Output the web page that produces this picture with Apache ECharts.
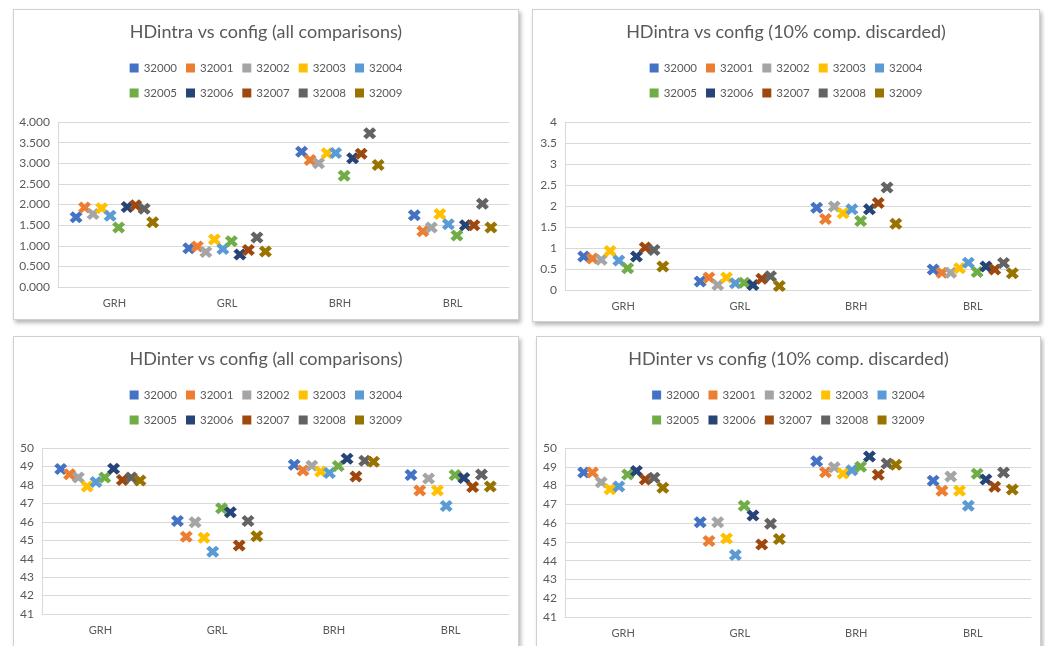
<!DOCTYPE html>
<html>
<head>
<meta charset="utf-8">
<script src="https://cdn.jsdelivr.net/npm/echarts@6/dist/echarts.min.js"></script>
<style>
  html, body { margin: 0; padding: 0; background: #ffffff; width: 1045px; height: 646px; overflow: hidden; }
  .panel {
    position: absolute;
    background: #ffffff;
    border: 1px solid #d0d0d0;
    box-sizing: border-box;
    box-shadow: 2px 3px 4px rgba(0, 0, 0, 0.28);
  }
</style>
</head>
<body>
<div id="p1" class="panel" style="left:13px;top:9px;width:506px;height:311px;"></div>
<div id="p2" class="panel" style="left:532px;top:9px;width:508px;height:313px;"></div>
<div id="p3" class="panel" style="left:13px;top:336px;width:506px;height:330px;"></div>
<div id="p4" class="panel" style="left:536px;top:336px;width:505px;height:330px;"></div>
<script>
// Configurations (one series each) and the four test categories
const configs = ['32000', '32001', '32002', '32003', '32004', '32005', '32006', '32007', '32008', '32009'];
const categories = ['GRH', 'GRL', 'BRH', 'BRL'];
const colors = ['#4472C4', '#ED7D31', '#A5A5A5', '#FFC000', '#5B9BD5',
                '#70AD47', '#264478', '#9E480E', '#636363', '#997300'];

// HDintra, all comparisons: one row per config, values for GRH, GRL, BRH, BRL
const intraAll = [
  [1.69, 0.94, 3.28, 1.74],
  [1.93, 0.98, 3.08, 1.35],
  [1.77, 0.85, 3.00, 1.44],
  [1.91, 1.15, 3.24, 1.77],
  [1.73, 0.92, 3.25, 1.52],
  [1.44, 1.11, 2.70, 1.25],
  [1.94, 0.79, 3.12, 1.50],
  [1.98, 0.90, 3.23, 1.50],
  [1.90, 1.20, 3.73, 2.02],
  [1.57, 0.86, 2.96, 1.44]
];

// HDintra, 10% of comparisons discarded
const intraDisc = [
  [0.80, 0.20, 1.96, 0.49],
  [0.75, 0.30, 1.69, 0.41],
  [0.72, 0.12, 1.99, 0.41],
  [0.93, 0.30, 1.83, 0.52],
  [0.70, 0.16, 1.92, 0.65],
  [0.52, 0.175, 1.64, 0.43],
  [0.80, 0.12, 1.92, 0.56],
  [1.01, 0.27, 2.07, 0.49],
  [0.95, 0.33, 2.44, 0.64],
  [0.56, 0.095, 1.58, 0.40]
];

// HDinter, all comparisons
const interAll = [
  [48.86, 46.04, 49.09, 48.53],
  [48.58, 45.19, 48.78, 47.70],
  [48.40, 45.97, 49.04, 48.35],
  [47.91, 45.14, 48.73, 47.70],
  [48.15, 44.37, 48.64, 46.86],
  [48.40, 46.73, 49.02, 48.53],
  [48.87, 46.52, 49.42, 48.37],
  [48.26, 44.72, 48.46, 47.89],
  [48.40, 46.04, 49.31, 48.57],
  [48.24, 45.21, 49.26, 47.91]
];

// HDinter, 10% of comparisons discarded
const interDisc = [
  [48.70, 46.05, 49.30, 48.25],
  [48.70, 45.05, 48.71, 47.73],
  [48.18, 46.04, 48.98, 48.48],
  [47.80, 45.18, 48.64, 47.73],
  [47.95, 44.30, 48.82, 46.93],
  [48.59, 46.93, 49.00, 48.63],
  [48.77, 46.41, 49.55, 48.32],
  [48.32, 44.86, 48.57, 47.93],
  [48.41, 45.96, 49.18, 48.70],
  [47.88, 45.16, 49.11, 47.79]
];

const FONT = 'Lato, "Open Sans", sans-serif';
const TEXT = '#595959';
// Thick "X" marker
const crossPath = 'path://M0,3 L3,0 L6,3 L9,0 L12,3 L9,6 L12,9 L9,12 L6,9 L3,12 L0,9 L3,6 Z';
// Horizontal spacing between configs inside one category (fraction of a category)
const STEP = 0.0755;

function legend(names, top) {
  return {
    data: names,
    top: top,
    left: 'center',
    icon: 'rect',
    itemWidth: 9,
    itemHeight: 9,
    itemGap: 9,
    textStyle: { color: TEXT, fontSize: 11.5, fontFamily: FONT }
  };
}

function build(id, title, rows, yAxisOpt, grid) {
  const chart = echarts.init(document.getElementById(id), null, { renderer: 'canvas' });
  const series = configs.map((name, s) => ({
    name: name,
    type: 'scatter',
    xAxisIndex: 1,
    symbol: crossPath,
    symbolSize: [13, 12],
    itemStyle: { color: colors[s], opacity: 1 },
    data: rows[s].map((v, c) => [c + (s - 4.5) * STEP, v]),
    z: 3
  }));
  chart.setOption({
    animation: false,
    title: {
      text: title,
      left: 'center',
      top: 8,
      textStyle: { color: TEXT, fontSize: 18, fontWeight: 'normal', fontFamily: FONT }
    },
    legend: [legend(configs.slice(0, 5), 47), legend(configs.slice(5), 72)],
    grid: Object.assign({ containLabel: false }, grid),
    xAxis: [
      {
        type: 'category',
        data: categories,
        boundaryGap: true,
        axisLine: { show: true, lineStyle: { color: '#d9d9d9', width: 1 } },
        axisTick: { show: false },
        axisLabel: { color: TEXT, fontSize: 11, fontFamily: FONT, margin: 11 },
        splitLine: { show: false }
      },
      {
        type: 'value',
        min: -0.5,
        max: 3.5,
        show: false
      }
    ],
    yAxis: Object.assign({
      type: 'value',
      axisLine: { show: true, onZero: false, lineStyle: { color: '#d9d9d9', width: 1 } },
      axisTick: { show: false },
      splitLine: { lineStyle: { color: '#d9d9d9', width: 1 } }
    }, yAxisOpt),
    series: series
  });
}

const yLabel = { color: TEXT, fontSize: 12, fontFamily: FONT, margin: 8 };

build('p1', 'HDintra vs config (all comparisons)', intraAll,
  { min: 0, max: 4, interval: 0.5,
    axisLabel: Object.assign({}, yLabel, { formatter: v => v.toFixed(3) }) },
  { left: 44, top: 112, width: 451, height: 165 });

build('p2', 'HDintra vs config (10% comp. discarded)', intraDisc,
  { min: 0, max: 4, interval: 0.5, axisLabel: yLabel },
  { left: 32, top: 112, width: 466, height: 168 });

build('p3', 'HDinter vs config (all comparisons)', interAll,
  { min: 41, max: 50, interval: 1, axisLabel: yLabel },
  { left: 28, top: 111, width: 467, height: 166 });

build('p4', 'HDinter vs config (10% comp. discarded)', interDisc,
  { min: 41, max: 50, interval: 1, axisLabel: yLabel },
  { left: 28, top: 111, width: 466, height: 169 });
</script>
</body>
</html>
